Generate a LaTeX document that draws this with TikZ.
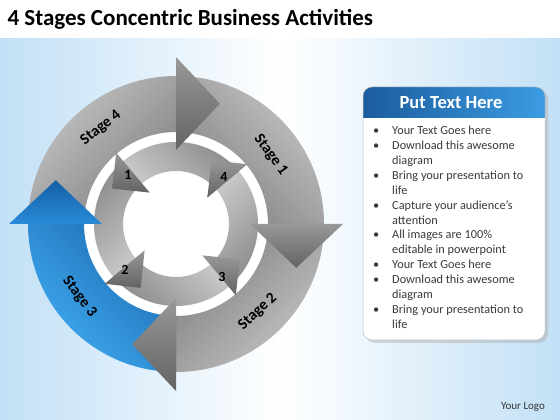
\documentclass[tikz,border=0pt]{standalone}
\usepackage{fontspec}
\setmainfont{Carlito}
\definecolor{bgblue}{HTML}{C2E0F6}
\definecolor{oglight}{HTML}{C6C6C6}
\definecolor{ogdark}{HTML}{7E7E7E}
\definecolor{hdlight}{HTML}{989898}
\definecolor{hddark}{HTML}{636363}
\definecolor{bllight}{HTML}{42ADF2}
\definecolor{bldark}{HTML}{1B6AB2}
\definecolor{bhlight}{HTML}{2A8BD8}
\definecolor{bhdark}{HTML}{135FA6}
\definecolor{iglight}{HTML}{C8C8C8}
\definecolor{igdark}{HTML}{888888}
\definecolor{hdrleft}{HTML}{1B5C9E}
\definecolor{hdrright}{HTML}{3C9CE2}
\definecolor{bodytext}{HTML}{3A3A3A}
\newcommand{\myobody}[2]{(#1:148pt) arc[start angle=#1,end angle=#2,radius=148pt] -- (#2:92pt) arc[start angle=#2,end angle=#1,radius=92pt] -- cycle}
\newcommand{\myohead}[1]{(#1:167pt) -- ({#1-20}:128pt) -- (#1:74pt) -- cycle}
\newcommand{\myibody}[2]{(#1:82pt) arc[start angle=#1,end angle=#2,radius=82pt] -- (#2:53pt) arc[start angle=#2,end angle=#1,radius=53pt] -- cycle}
\newcommand{\myihead}[1]{(#1:93pt) -- ({#1+21}:73pt) -- (#1:41pt) -- cycle}
\begin{document}
\begin{tikzpicture}[x=1pt,y=1pt,
  stagelbl/.style={font=\bfseries\fontsize{15.5}{16}\selectfont, text=black},
  numlbl/.style={font=\bfseries\fontsize{14}{14}\selectfont, text=black},
  ohd/.style={top color=hdlight, bottom color=hddark},
  ihd/.style={top color=hdlight, bottom color=hddark}]
\useasboundingbox (0,0) rectangle (560,420);
\fill[white] (0,0) rectangle (560,420);
\shade[left color=bgblue, right color=bgblue, middle color=white] (0,0) rectangle (560,381);
\node[anchor=base west, font=\bfseries\fontsize{23}{26}\selectfont] (title) at (4,394) {4 Stages Concentric Business Activities};
\begin{scope}[shift={(176pt,196pt)}]
  \fill[white] (0,0) circle[radius=92pt];
  % outer bodies
  \shade[left color=oglight, right color=ogdark, shading angle=45] \myobody{180}{90};
  \shade[left color=oglight, right color=ogdark, shading angle=-45] \myobody{90}{0};
  \shade[left color=oglight, right color=ogdark, shading angle=-135] \myobody{0}{-90};
  \shade[left color=bllight, right color=bldark, shading angle=135] \myobody{-90}{-180};
  % inner bodies
  \shade[left color=iglight, right color=igdark, shading angle=45] \myibody{-50}{40};
  \shade[left color=iglight, right color=igdark, shading angle=135] \myibody{40}{130};
  \shade[left color=iglight, right color=igdark, shading angle=-135] \myibody{130}{220};
  \shade[left color=iglight, right color=igdark, shading angle=-45] \myibody{220}{310};
  % inner heads
  \shade[ihd] \myihead{40};
  \shade[ihd] \myihead{130};
  \shade[ihd] \myihead{220};
  \shade[ihd] \myihead{310};
  % outer heads
  \shade[ohd] \myohead{90};
  \shade[ohd] \myohead{0};
  \shade[ohd] \myohead{-90};
  \shade[top color=bhdark, bottom color=bhlight] \myohead{180};
  % labels
  \node[stagelbl, rotate=38] (s4) at (128:122pt) {Stage 4};
  \node[stagelbl, rotate=-54] (s1) at (36:117pt) {Stage 1};
  \node[stagelbl, rotate=43] (s2) at (-47:120pt) {Stage 2};
  \node[stagelbl, rotate=-53] (s3) at (217:121pt) {Stage 3};
  \node[numlbl] (n1) at (-48pt,49pt) {1};
  \node[numlbl] (n2) at (-51pt,-46pt) {2};
  \node[numlbl] (n3) at (46pt,-53pt) {3};
  \node[numlbl] (n4) at (48pt,47pt) {4};
\end{scope}
% panel
\fill[black!30, opacity=0.5, rounded corners=9pt] (366,77) rectangle (548,330);
\fill[white, rounded corners=9pt] (363,80) rectangle (545,333);
\begin{scope}
  \clip[rounded corners=9pt] (363,80) rectangle (545,333);
  \shade[left color=hdrleft, right color=hdrright] (363,302) rectangle (545,333);
\end{scope}
\draw[black!25, line width=0.5pt, rounded corners=9pt] (363,80) rectangle (545,333);
\node[font=\bfseries\fontsize{18.5}{20}\selectfont, text=white] (hdr) at (451,317.5) {Put Text Here};
\node[anchor=base west, inner sep=0pt, text=bodytext, font=\fontsize{12.3}{14.85}\selectfont] (list) at (373,285)
 {\begin{tabular}[t]{@{}p{19pt}@{}l@{}}
 • & Your Text Goes here\\
 • & Download this awesome\\
   & diagram\\
 • & Bring your presentation to\\
   & life\\
 • & Capture your audience’s\\
   & attention\\
 • & All images are 100\%\\
   & editable in powerpoint\\
 • & Your Text Goes here\\
 • & Download this awesome\\
   & diagram\\
 • & Bring your presentation to\\
   & life
 \end{tabular}};
\node[font=\fontsize{11}{12}\selectfont, text=black!80] (logo) at (523,13) {Your Logo};
\end{tikzpicture}
\end{document}
